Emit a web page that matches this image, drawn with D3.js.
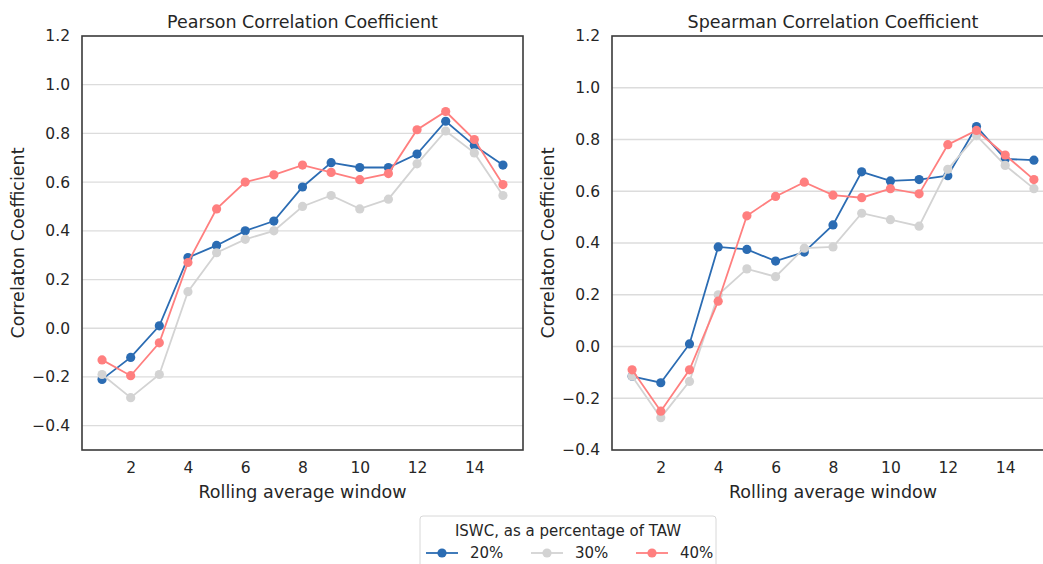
<!DOCTYPE html>
<html>
    <head>
        <meta charset="utf-8">
        <style>
body {
    margin: 0;
    background: #fff;
    overflow: hidden;
}
svg text {
    font-family: "DejaVu Sans", sans-serif;
    fill: #262626;
}
.grid line {
    stroke: #dcdcdc;
    stroke-width: 1.3;
}
.frame {
    fill: none;
    stroke: #3a3a3a;
    stroke-width: 1.6;
}
        </style>
    </head>
    <body>
        <div id="chart"></div>
        <script src="https://d3js.org/d3.v7.min.js"></script>
        <script>

const windows = [1, 2, 3, 4, 5, 6, 7, 8, 9, 10, 11, 12, 13, 14, 15]
const seriesNames = ["20%", "30%", "40%"]
const seriesColors = ["#2b6cb3", "#d3d3d3", "#ff7f7f"]

// Pearson
const pearson20 = [-0.21, -0.12, 0.01, 0.29, 0.34, 0.40, 0.44, 0.58, 0.68, 0.66, 0.66, 0.715, 0.85, 0.75, 0.67]
const pearson30 = [-0.19, -0.285, -0.19, 0.15, 0.31, 0.365, 0.40, 0.50, 0.545, 0.49, 0.53, 0.675, 0.81, 0.72, 0.545]
const pearson40 = [-0.13, -0.195, -0.06, 0.27, 0.49, 0.60, 0.63, 0.67, 0.64, 0.61, 0.635, 0.815, 0.89, 0.775, 0.59]

// Spearman
const spearman20 = [-0.115, -0.14, 0.01, 0.385, 0.375, 0.33, 0.365, 0.47, 0.675, 0.64, 0.645, 0.66, 0.85, 0.725, 0.72]
const spearman30 = [-0.115, -0.275, -0.135, 0.20, 0.30, 0.27, 0.38, 0.385, 0.515, 0.49, 0.465, 0.685, 0.815, 0.70, 0.61]
const spearman40 = [-0.09, -0.25, -0.09, 0.175, 0.505, 0.58, 0.635, 0.585, 0.575, 0.61, 0.59, 0.78, 0.835, 0.74, 0.645]

const yTicks = [-0.4, -0.2, 0.0, 0.2, 0.4, 0.6, 0.8, 1.0, 1.2]
const xTicks = [2, 4, 6, 8, 10, 12, 14]

const svg = d3.select("#chart").append("svg")
    .attr("width", 1043)
    .attr("height", 564)

const panels = [
    {title: "Pearson Correlation Coefficient", left: 82, right: 523, yDomain: [-0.5, 1.2],
     data: [pearson20, pearson30, pearson40]},
    {title: "Spearman Correlation Coefficient", left: 612, right: 1054, yDomain: [-0.4, 1.2],
     data: [spearman20, spearman30, spearman40]}
]
const plotTop = 36, plotBottom = 450

panels.forEach(p => {
    const x = d3.scaleLinear().domain([0.3, 15.7]).range([p.left, p.right])
    const y = d3.scaleLinear().domain(p.yDomain).range([plotBottom, plotTop])
    const g = svg.append("g")

    // gridlines
    g.append("g")
        .attr("class", "grid")
        .selectAll("line")
        .data(yTicks.filter(t => t > p.yDomain[0] && t < p.yDomain[1]))
        .join("line")
        .attr("x1", p.left).attr("x2", p.right)
        .attr("y1", d => y(d)).attr("y2", d => y(d))

    // y axis labels
    const yAxis = g.append("g")
        .attr("transform", "translate(" + p.left + ",0)")
        .call(d3.axisLeft(y).tickValues(yTicks.filter(t => t >= p.yDomain[0]))
            .tickFormat(d => d3.format(".1f")(d).replace("-", "\u2212"))
            .tickSize(0).tickPadding(12))
    yAxis.select(".domain").remove()
    yAxis.selectAll("text").style("font-size", "15.5px")

    // x axis labels
    const xAxis = g.append("g")
        .attr("transform", "translate(0," + plotBottom + ")")
        .call(d3.axisBottom(x).tickValues(xTicks).tickSize(0).tickPadding(12))
    xAxis.select(".domain").remove()
    xAxis.selectAll("text").style("font-size", "15.5px")

    // lines + markers
    p.data.forEach((vals, i) => {
        const line = d3.line().x((d, j) => x(windows[j])).y(d => y(d))
        g.append("path")
            .datum(vals)
            .attr("fill", "none")
            .attr("stroke", seriesColors[i])
            .attr("stroke-width", 1.8)
            .attr("d", line)
        g.selectAll(".pt" + i)
            .data(vals)
            .join("circle")
            .attr("class", "pt" + i)
            .attr("cx", (d, j) => x(windows[j]))
            .attr("cy", d => y(d))
            .attr("r", 4.6)
            .attr("fill", seriesColors[i])
    })

    g.append("rect")
        .attr("class", "frame")
        .attr("x", p.left).attr("y", plotTop)
        .attr("width", p.right - p.left).attr("height", plotBottom - plotTop)

    g.append("text")
        .attr("x", (p.left + p.right) / 2)
        .attr("y", 28)
        .attr("text-anchor", "middle")
        .style("font-size", "17.5px")
        .text(p.title)

    g.append("text")
        .attr("x", (p.left + p.right) / 2)
        .attr("y", 498)
        .attr("text-anchor", "middle")
        .style("font-size", "17.5px")
        .text("Rolling average window")

    g.append("text")
        .attr("transform", "translate(" + (p.left - 58) + "," + ((plotTop + plotBottom) / 2) + ") rotate(-90)")
        .attr("text-anchor", "middle")
        .style("font-size", "17.5px")
        .text("Correlaton Coefficient")
})

// legend
const lg = svg.append("g").attr("transform", "translate(420,516)")
lg.append("rect")
    .attr("x", 0).attr("y", 0).attr("width", 296).attr("height", 60)
    .attr("rx", 3)
    .attr("fill", "#fff").attr("stroke", "#d8d8d8")
lg.append("text")
    .attr("x", 148).attr("y", 20)
    .attr("text-anchor", "middle")
    .style("font-size", "15px")
    .text("ISWC, as a percentage of TAW")
seriesNames.forEach((name, i) => {
    const ox = 6 + i * 105
    lg.append("line")
        .attr("x1", ox).attr("x2", ox + 32)
        .attr("y1", 37).attr("y2", 37)
        .attr("stroke", seriesColors[i]).attr("stroke-width", 1.8)
    lg.append("circle")
        .attr("cx", ox + 16).attr("cy", 37).attr("r", 4.6)
        .attr("fill", seriesColors[i])
    lg.append("text")
        .attr("x", ox + 44).attr("y", 42)
        .style("font-size", "15px")
        .text(name)
})
        </script>
    </body>
</html>
